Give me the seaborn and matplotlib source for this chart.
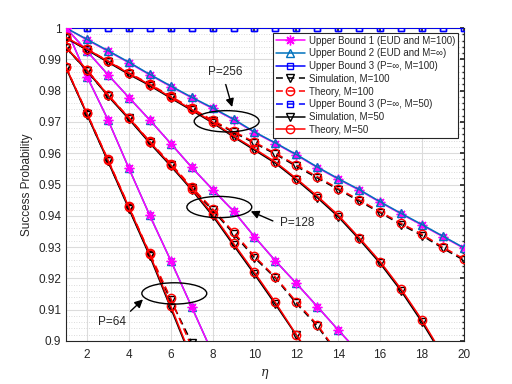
import numpy as np
import pandas as pd
import matplotlib
matplotlib.use("Agg")
import matplotlib.pyplot as plt
from matplotlib.patches import Ellipse
from matplotlib.ticker import MultipleLocator
import seaborn as sns

# eta values (x axis)
eta = list(range(1, 21))

# Upper Bound 3 (P=inf), both M
ub3 = [1.0] * 20

# P = 256
ub1_256 = [1.0, 0.9962, 0.9926, 0.9889, 0.9850, 0.9813, 0.9777, 0.9743, 0.9707, 0.9666,
           0.9631, 0.9594, 0.9554, 0.9517, 0.9482, 0.9443, 0.9406, 0.9370, 0.9333, 0.9296]
ub2_256 = [1.0, 0.9964, 0.9928, 0.9891, 0.9852, 0.9815, 0.9779, 0.9745, 0.9709, 0.9668,
           0.9633, 0.9596, 0.9556, 0.9519, 0.9484, 0.9445, 0.9408, 0.9372, 0.9335, 0.9298]
sim100_256 = [0.9968, 0.9931, 0.9893, 0.9854, 0.9818, 0.9779, 0.9741, 0.9702, 0.9667, 0.9632,
              0.9597, 0.9558, 0.9521, 0.9484, 0.9447, 0.9410, 0.9372, 0.9337, 0.9296, 0.9258]
th100_256 = [0.9970, 0.9933, 0.9895, 0.9857, 0.9821, 0.9782, 0.9744, 0.9705, 0.9670, 0.9635,
             0.9600, 0.9562, 0.9525, 0.9487, 0.9451, 0.9413, 0.9376, 0.9341, 0.9300, 0.9262]
sim50_256 = [0.9968, 0.9930, 0.9891, 0.9852, 0.9816, 0.9776, 0.9737, 0.9697, 0.9652, 0.9610,
             0.9568, 0.9515, 0.9458, 0.9397, 0.9325, 0.9248, 0.9160, 0.9060, 0.8950]
th50_256 = [0.9970, 0.9933, 0.9894, 0.9855, 0.9819, 0.9779, 0.9740, 0.9700, 0.9655, 0.9614,
            0.9572, 0.9519, 0.9463, 0.9402, 0.9330, 0.9254, 0.9166, 0.9067, 0.8955]

# P = 128
ub1_128 = [1.0, 0.9926, 0.9851, 0.9778, 0.9706, 0.9631, 0.9555, 0.9484, 0.9415, 0.9333,
           0.9256, 0.9184, 0.9110, 0.9035, 0.8962]
ub2_128 = ub1_128
sim100_128 = [0.9937, 0.9863, 0.9784, 0.9711, 0.9635, 0.9563, 0.9488, 0.9418, 0.9343, 0.9266,
              0.9201, 0.9120, 0.9048, 0.8955]
th100_128 = [0.9939, 0.9866, 0.9787, 0.9714, 0.9638, 0.9567, 0.9492, 0.9422, 0.9348, 0.9271,
             0.9204, 0.9125, 0.9052, 0.8960]
sim50_128 = [0.9937, 0.9863, 0.9783, 0.9709, 0.9632, 0.9559, 0.9483, 0.9400, 0.9306, 0.9213,
             0.9117, 0.9018, 0.8912]
th50_128 = [0.9939, 0.9866, 0.9786, 0.9713, 0.9636, 0.9563, 0.9487, 0.9405, 0.9312, 0.9219,
            0.9123, 0.9020, 0.8920]

# P = 64
ub1_64 = [1.0, 0.9845, 0.9707, 0.9552, 0.9401, 0.9257, 0.9109, 0.8960]
ub2_64 = ub1_64
sim100_64 = [0.9873, 0.9724, 0.9575, 0.9425, 0.9274, 0.9130, 0.8995]
th100_64 = [0.9875, 0.9728, 0.9580, 0.9430, 0.9280, 0.9136, 0.8980]
sim50_64 = [0.9872, 0.9723, 0.9574, 0.9422, 0.9271, 0.9105, 0.8940]
th50_64 = [0.9875, 0.9727, 0.9579, 0.9428, 0.9277, 0.9112, 0.8945]

legend_labels = [
    "Upper Bound 1 (EUD and M=100)",
    "Upper Bound 2 (EUD and M=\u221e)",
    "Upper Bound 3 (P=\u221e, M=100)",
    "Simulation, M=100",
    "Theory, M=100",
    "Upper Bound 3 (P=\u221e, M=50)",
    "Simulation, M=50",
    "Theory, M=50",
]

sns.set_theme(style="whitegrid")
plt.rcParams['font.family'] = ['Liberation Sans', 'DejaVu Sans']
plt.rcParams['mathtext.fontset'] = 'dejavuserif'

fig = plt.figure(figsize=(5.12, 3.84), dpi=100)
ax = fig.add_axes([0.129, 0.112, 0.777, 0.815])

magenta = "#FF00FF"
ub2_col = "#0072BD"
blue = "#0000FF"
asterisk = (8, 2, 0)

styles = {
    "ub1": dict(color=magenta, marker=asterisk, linestyle="-", markersize=7, markerfacecolor=magenta),
    "ub2": dict(color=ub2_col, marker="^", linestyle="-", markersize=6, markerfacecolor="none"),
    "ub3_100": dict(color=blue, marker="s", linestyle="-", markersize=5, markerfacecolor="none"),
    "sim100": dict(color="black", marker="v", linestyle="--", markersize=6, markerfacecolor="none"),
    "th100": dict(color="red", marker="o", linestyle="--", markersize=6, markerfacecolor="none"),
    "ub3_50": dict(color=blue, marker="s", linestyle="--", markersize=5, markerfacecolor="none"),
    "sim50": dict(color="black", marker="v", linestyle="-", markersize=6, markerfacecolor="none"),
    "th50": dict(color="red", marker="o", linestyle="-", markersize=6, markerfacecolor="none"),
}


def draw(vals, key, label=None, z=2):
    sns.lineplot(x=eta[:len(vals)], y=vals, ax=ax, label=label)
    line = ax.lines[-1]
    st = styles[key]
    line.set(color=st["color"], linestyle=st["linestyle"], linewidth=1.1,
             marker=st["marker"], markersize=st["markersize"],
             markeredgecolor=st["color"], markerfacecolor=st["markerfacecolor"],
             markeredgewidth=1.0, zorder=z)
    if st["linestyle"] == "--":
        line.set_dashes((4.5, 3))


# legend-ordered first pass (P=256 group carries the labels)
draw(ub1_256, "ub1", legend_labels[0], z=3)
draw(ub2_256, "ub2", legend_labels[1], z=4)
draw(ub3, "ub3_100", legend_labels[2], z=4)
draw(sim100_256, "sim100", legend_labels[3], z=5)
draw(th100_256, "th100", legend_labels[4], z=6)
draw(ub3, "ub3_50", legend_labels[5], z=4)
draw(sim50_256, "sim50", legend_labels[6], z=5)
draw(th50_256, "th50", legend_labels[7], z=6)

for ub1, ub2, s100, t100, s50, t50 in [
        (ub1_128, ub2_128, sim100_128, th100_128, sim50_128, th50_128),
        (ub1_64, ub2_64, sim100_64, th100_64, sim50_64, th50_64)]:
    draw(ub2, "ub2", z=3)
    draw(ub1, "ub1", z=4)
    draw(s100, "sim100", z=5)
    draw(t100, "th100", z=6)
    draw(s50, "sim50", z=5)
    draw(t50, "th50", z=6)

# annotations: ellipses, arrows, labels
for cx, cy in [(8.67, 0.9702), (8.32, 0.9428), (6.17, 0.9152)]:
    ax.add_patch(Ellipse((cx, cy), 3.1, 0.0068, fill=False, ec="black", lw=1.0, zorder=8))

ax.annotate("", xy=(8.97, 0.9739), xytext=(8.59, 0.9828),
            arrowprops=dict(arrowstyle="-|>", color="black", lw=1.0), zorder=8)
ax.text(8.59, 0.9858, "P=256", ha="center", va="center", fontsize=8.5)
ax.annotate("", xy=(9.7, 0.9418), xytext=(11.0, 0.9380),
            arrowprops=dict(arrowstyle="-|>", color="black", lw=1.0), zorder=8)
ax.text(12.05, 0.9376, "P=128", ha="center", va="center", fontsize=8.5)
ax.annotate("", xy=(4.77, 0.9139), xytext=(3.98, 0.9089),
            arrowprops=dict(arrowstyle="-|>", color="black", lw=1.0), zorder=8)
ax.text(3.2, 0.9060, "P=64", ha="center", va="center", fontsize=8.5)

ax.set_xlim(1, 20)
ax.set_ylim(0.9, 1.0)
ax.set_xticks(range(2, 21, 2))
ax.set_yticks(np.round(np.arange(0.9, 1.0001, 0.01), 2))
ax.set_yticklabels(["0.9"] + ["%g" % v for v in np.round(np.arange(0.91, 1.0001, 0.01), 2)])
ax.yaxis.set_minor_locator(MultipleLocator(0.002))

ax.grid(True, which="major", color="#dcdcdc", lw=0.8, linestyle="-")
ax.grid(True, which="minor", axis="y", color="#d0d0d0", lw=0.6, linestyle=(0, (1, 2)))
ax.set_axisbelow(True)
ax.set_facecolor("white")
for sp in ax.spines.values():
    sp.set_color("#262626")
    sp.set_linewidth(0.8)
ax.tick_params(axis="both", which="both", direction="in", top=True, right=True,
               labelsize=8.5, colors="#262626", length=3)
ax.tick_params(axis="both", which="minor", length=1.8)
ax.tick_params(axis="x", which="major", pad=6)

ax.set_xlabel(r"$\eta$", fontsize=9, color="#262626")
ax.set_ylabel("Success Probability", fontsize=8.5, color="#262626")

leg = ax.legend(loc="upper right", bbox_to_anchor=(0.985, 0.985), fontsize=7,
                frameon=True, fancybox=False, framealpha=1, edgecolor="#262626",
                handlelength=3.0, labelspacing=0.28, borderpad=0.3, handletextpad=0.4,
                borderaxespad=0.0)
leg.get_frame().set_linewidth(0.8)
leg.set_zorder(10)

fig.savefig("out.png", dpi=100)
